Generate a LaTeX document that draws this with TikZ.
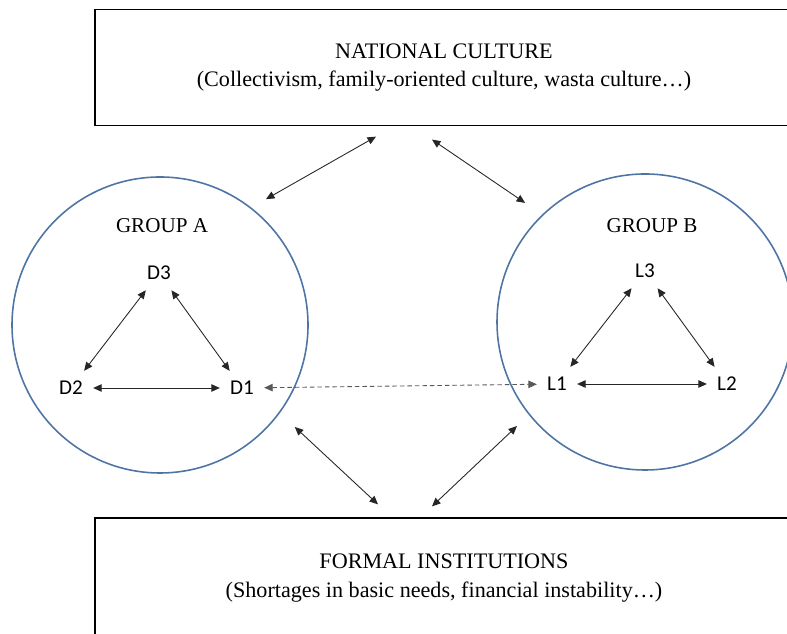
\documentclass[tikz,border=0pt]{standalone}
\usepackage{fontspec}
\setmainfont{Liberation Serif}
\newfontfamily\labelfont{Carlito}
\usetikzlibrary{positioning, calc, arrows.meta}

\definecolor{groupblue}{RGB}{78,116,164}

\tikzset{
    outerbox/.style={draw, line width=0.7pt, minimum width=13.96cm, minimum height=2.32cm, align=center, font=\fontsize{12.6}{16.2}\selectfont},
    groupcircle/.style={draw=groupblue, circle, line width=0.9pt, minimum size=5.92cm},
    member/.style={font=\labelfont\fontsize{12}{14}\selectfont, inner sep=0.2cm},
    biarrow/.style={>={Triangle[length=0.17cm,width=0.15cm]}, <->, line width=0.5pt, black!85},
    linkarrow/.style={biarrow, black!65, dash pattern=on 0.09cm off 0.06cm}
}

\begin{document}
\begin{tikzpicture}
    \useasboundingbox (0,0) rectangle (15.74,12.68);
    \clip (0,0) rectangle (15.74,12.68);
    % context boxes
    \node[outerbox] (national) at (8.88,11.33) {NATIONAL CULTURE\\(Collectivism, family-oriented culture, wasta culture…)};
    \node[outerbox, minimum height=2.4cm] (formal) at (8.88,1.12) {FORMAL INSTITUTIONS\\(Shortages in basic needs, financial instability…)};
    % the two groups
    \node[groupcircle] (groupA) at (3.2,6.18) {};
    \node[groupcircle] (groupB) at (12.9,6.24) {};
    \node[font=\fontsize{12}{14}\selectfont] (titleA) at (3.24,8.16) {GROUP A};
    \node[font=\fontsize{12}{14}\selectfont] (titleB) at (13.04,8.16) {GROUP B};
    \node[member] (D3) at (3.18,7.22) {D3};
    \node[member] (D2) at (1.42,4.92) {D2};
    \node[member] (D1) at (4.84,4.92) {D1};
    \node[member] (L3) at (12.9,7.26) {L3};
    \node[member] (L1) at (11.14,5.0) {L1};
    \node[member] (L2) at (14.54,5.0) {L2};
    \foreach \i/\j in {D3/D2,D3/D1,D2/D1,L3/L1,L3/L2,L1/L2}{
    \draw[biarrow] (\i) -- (\j);
    }
    \draw[linkarrow] (D1) -- (L1);
    % ends of the context arrows
    \coordinate (nc1) at ($(national.south)+(-1.36,-0.21)$);
    \coordinate (nc2) at ($(national.south)+(-0.24,-0.27)$);
    \coordinate (fi1) at ($(formal.north)+(-1.32,0.26)$);
    \coordinate (fi2) at ($(formal.north)+(-0.24,0.22)$);
    \coordinate (ga1) at ($(groupA.center)+(49.9:3.29)$);
    \coordinate (ga2) at ($(groupA.center)+(-37.1:3.38)$);
    \coordinate (gb1) at ($(groupB.center)+(135.2:3.38)$);
    \coordinate (gb2) at ($(groupB.center)+(219.1:3.3)$);
    \draw[biarrow] (nc1) -- (ga1);
    \draw[biarrow] (nc2) -- (gb1);
    \draw[biarrow] (ga2) -- (fi1);
    \draw[biarrow] (gb2) -- (fi2);
\end{tikzpicture}
\end{document}
